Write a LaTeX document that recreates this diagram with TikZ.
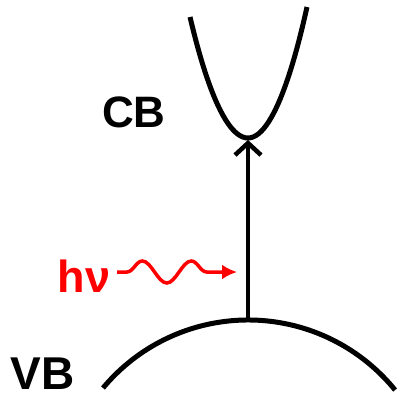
\documentclass[tikz,border=0pt]{standalone}
\usepackage{fontspec}
\setmainfont{Liberation Sans}
\usepackage{tikz}
\usetikzlibrary{arrows.meta,decorations.pathmorphing}
\tikzset{
  band/.style={line width=5pt, black},
  bandlabel/.style={font=\fontsize{45}{50}\selectfont\bfseries, inner sep=0pt, anchor=base},
  photon/.style={red, line width=3.5pt,
    decorate, decoration={snake, amplitude=11pt, segment length=49pt,
      pre length=10pt, post length=16pt}},
}
\begin{document}
\begin{tikzpicture}[x=1pt,y=-1pt]
\useasboundingbox (0,0) rectangle (398,398);

% --- bands ------------------------------------------------------------------
\draw[band] (190,17) parabola bend (248,138) (307,7);
\draw[band] (103,388) arc[start angle=-140.2, end angle=-39, radius=189];

\coordinate (cbbot) at (248,140);
\coordinate (vbtop) at (248,320);

% --- labels -----------------------------------------------------------------
\node[bandlabel, font=\fontsize{44}{50}\selectfont\bfseries] (cb) at (134,128) {CB};
\node[bandlabel, font=\fontsize{46}{50}\selectfont\bfseries] (vb) at (42.5,389) {VB};
\node[bandlabel, text=red] (hnu) at (84,292) {hν};

% --- excitation -------------------------------------------------------------
\draw[band, line width=4.5pt, -{Straight Barb[length=12pt, width=26pt, line width=4.5pt]}] (vbtop) -- (cbbot);

\coordinate (wstart) at (117,272);
\coordinate (wend) at (237,272);
\draw[photon, -{Latex[length=15pt, width=15pt]}] (wstart) -- (wend);

\end{tikzpicture}
\end{document}
